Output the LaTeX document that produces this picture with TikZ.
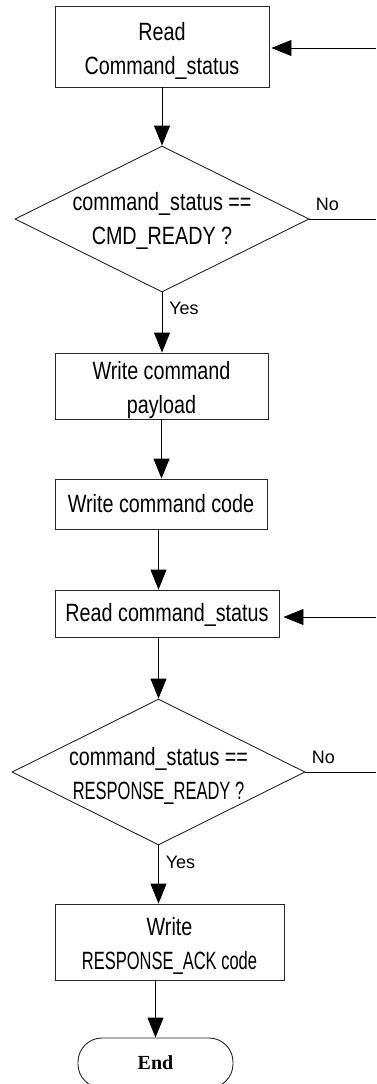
\documentclass[tikz,border=0pt]{standalone}
\usepackage{fontspec}
\setmainfont{Liberation Sans}
\newfontfamily\condfont[FakeStretch=0.79]{Liberation Sans}
\newfontfamily\capsfont[FakeStretch=0.66]{Liberation Sans}
\newfontfamily\endfont{Liberation Serif}
\usetikzlibrary{arrows.meta,shapes.geometric,calc}
\begin{document}
\begin{tikzpicture}[x=1pt,y=-1pt,
  box/.style={draw=black!85, line width=0.9pt, rectangle, inner sep=0pt},
  dia/.style={draw=black!85, line width=0.9pt, diamond, inner sep=0pt},
  term/.style={draw=black!85, line width=0.9pt, rectangle, rounded corners=24pt, inner sep=0pt},
  txt/.style={font=\condfont\fontsize{25}{34}\selectfont, align=center, inner sep=0pt},
  lbl/.style={font=\fontsize{18}{20}\selectfont, inner sep=0pt},
  endtxt/.style={font=\endfont\bfseries\fontsize{20}{22}\selectfont, inner sep=0pt},
  line/.style={line width=0.9pt, draw=black},
  arr/.style={line, -{Triangle[length=20pt,width=16pt]}}
]
\useasboundingbox (0,0) rectangle (376,1084);

% nodes
\node[box, minimum width=214pt, minimum height=81pt] (b1) at (162,46.5) {};
\node[txt] (t1) at ([yshift=-4pt]b1.center) {Read\\Command\_status};

\node[dia, minimum width=294pt, minimum height=146pt] (d1) at (162,219) {};
\node[txt] (t2) at ([yshift=-2pt]d1.center) {command\_status ==\\CMD\_READY ?};

\node[box, minimum width=213pt, minimum height=66pt] (b2) at (161.5,386) {};
\node[txt] (t3) at ([yshift=-4pt]b2.center) {Write command\\payload};

\node[box, minimum width=212pt, minimum height=50pt] (b3) at (161,504) {};
\node[txt] (t4) at (b3.center) {Write command code};

\node[box, minimum width=224pt, minimum height=47pt] (b4) at (167,613.5) {};
\node[txt] (t5) at ([yshift=-1pt]b4.center) {Read command\_status};

\node[dia, minimum width=293pt, minimum height=146pt] (d2) at (158.5,772) {};
\node[txt] (t6) at ([yshift=-4pt]d2.center) {command\_status ==\\{\capsfont RESPONSE\_READY ?}};

\node[box, minimum width=229pt, minimum height=76pt] (b5) at (169.5,942) {};
\node[txt] (t7) at ([yshift=-3.5pt]b5.center) {Write\\{\capsfont RESPONSE\_ACK code}};

\node[term, minimum width=155pt, minimum height=50pt] (e) at (155.5,1063) {};
\node[endtxt] (t8) at (e.center) {End};

% labels
\node[lbl] (no1) at ([xshift=18pt,yshift=15pt]d1.east) {No};
\node[lbl] (yes1) at ([xshift=22pt,yshift=-16pt]d1.south) {Yes};
\node[lbl] (no2) at ([xshift=18pt,yshift=15pt]d2.east) {No};
\node[lbl] (yes2) at ([xshift=22pt,yshift=-17pt]d2.south) {Yes};

% right edge coordinates
\coordinate (r1) at (376,48);
\coordinate (r3) at (376,617);

% connectors
\draw[arr] (b1.south) -- (d1.north);
\draw[arr] (d1.south) -- (d1.south |- b2.north);
\draw[arr] (b2.south) -- (b2.south |- b3.north);
\draw[arr] (d2.north |- b3.south) -- (d2.north |- b4.north);
\draw[arr] (d2.north |- b4.south) -- (d2.north);
\draw[arr] (d2.south) -- (d2.south |- b5.north);
\draw[arr] (e.north |- b5.south) -- (e.north);

\draw[arr, shorten >=2pt] (r1) -- (r1 -| b1.east);
\draw[line] (d1.east) -- (d1.east -| r1);
\draw[arr, shorten >=4pt] (r3) -- (r3 -| b4.east);
\draw[line] (d2.east) -- (d2.east -| r3);
\end{tikzpicture}
\end{document}
